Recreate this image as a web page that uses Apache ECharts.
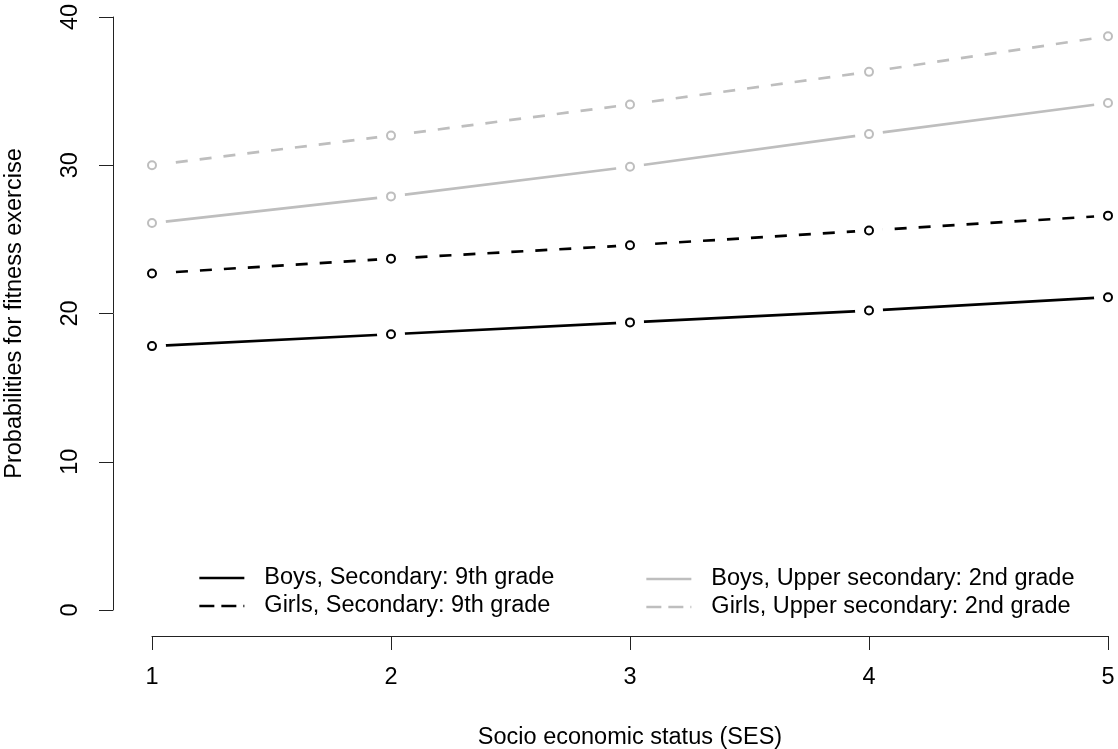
<!DOCTYPE html>
<html>
<head>
<meta charset="utf-8">
<script src="https://cdn.jsdelivr.net/npm/echarts@6/dist/echarts.min.js"></script>
<style>
html,body{margin:0;padding:0;background:#fff;}
#chart{width:1118px;height:749px;}
</style>
</head>
<body>
<div id="chart"></div>
<script>
var ses = [1, 2, 3, 4, 5];
var boysSecondary = [17.8, 18.6, 19.4, 20.2, 21.1];
var girlsSecondary = [22.7, 23.7, 24.6, 25.6, 26.6];
var boysUpper = [26.1, 27.9, 29.9, 32.1, 34.2];
var girlsUpper = [30.0, 32.0, 34.1, 36.3, 38.7];
var seriesNames = [
  'Boys, Secondary: 9th grade',
  'Girls, Secondary: 9th grade',
  'Boys, Upper secondary: 2nd grade',
  'Girls, Upper secondary: 2nd grade'
];
var yTicks = [0, 10, 20, 30, 40];
var xTitle = 'Socio economic status (SES)';
var yTitle = 'Probabilities for fitness exercise';

var FONT = '"Liberation Sans", Arial, sans-serif';
var FS = 23.5;
var BLACK = '#000000';
var GREY = '#BEBEBE';

function pairs(vals) {
  return ses.map(function (x, i) { return [x, vals[i]]; });
}

var defs = [
  { name: seriesNames[0], vals: boysSecondary, color: BLACK, dash: 'solid', legDash: 'solid' },
  { name: seriesNames[1], vals: girlsSecondary, color: BLACK, dash: [12, 12], legDash: [15, 7] },
  { name: seriesNames[2], vals: boysUpper, color: GREY, dash: 'solid', legDash: 'solid' },
  { name: seriesNames[3], vals: girlsUpper, color: GREY, dash: [12, 12], legDash: [15, 7] }
];

var series = [];
defs.forEach(function (d) {
  series.push({
    name: d.name, type: 'line', data: pairs(d.vals), symbol: 'none',
    lineStyle: { color: d.color, width: 2.7, type: d.dash },
    itemStyle: { color: d.color },
    z: 1, clip: false, silent: true, animation: false
  });
});
// white discs that open a small gap in each line around its points (R type = "b")
defs.forEach(function (d, k) {
  series.push({
    id: 'gap' + k, type: 'custom', data: pairs(d.vals),
    renderItem: function (params, api) {
      var p = api.coord([api.value(0), api.value(1)]);
      return {
        type: 'circle',
        shape: { cx: p[0], cy: p[1], r: 14 },
        style: { fill: '#ffffff', stroke: null, opacity: 1 }
      };
    },
    encode: { x: 0, y: 1 },
    z: 5, clip: false, silent: true, animation: false
  });
});
defs.forEach(function (d, k) {
  series.push({
    id: 'pt' + k, type: 'scatter', data: pairs(d.vals),
    symbol: 'emptyCircle', symbolSize: 8,
    itemStyle: { color: d.color, borderColor: d.color, borderWidth: 2.6, opacity: 1 },
    z: 6, clip: false, silent: true, animation: false
  });
});

function legendCfg(idx, left, top) {
  return {
    show: true, orient: 'vertical', left: left, top: top, padding: 0,
    itemWidth: 45, itemHeight: 14, itemGap: 4,
    data: idx.map(function (i) {
      var d = defs[i];
      return {
        name: d.name,
        itemStyle: { opacity: 0, borderWidth: 0 },
        lineStyle: { color: d.color, width: 2.7, type: d.legDash }
      };
    }),
    itemStyle: { opacity: 0, borderWidth: 0 },
    textStyle: { fontFamily: FONT, fontSize: FS, color: '#000', lineHeight: 24, padding: [0, 0, 0, 15] },
    selectedMode: false
  };
}

var chart = echarts.init(document.getElementById('chart'), null, { renderer: 'canvas' });
chart.setOption({
  animation: false,
  backgroundColor: '#ffffff',
  textStyle: { fontFamily: FONT },
  grid: { left: 152, right: 10, top: 17, bottom: 139, containLabel: false, outerBoundsMode: 'none' },
  legend: [legendCfg([0, 1], 198, 566), legendCfg([2, 3], 645, 567)],
  xAxis: {
    type: 'value', min: 1, max: 5, interval: 1,
    offset: 26,
    name: xTitle, nameLocation: 'middle', nameGap: 90,
    nameTextStyle: { fontFamily: FONT, fontSize: FS, color: '#000' },
    axisLine: { show: true, onZero: false, lineStyle: { color: '#222', width: 1 } },
    axisTick: { show: true, length: 14, lineStyle: { color: '#222', width: 1 } },
    axisLabel: { fontFamily: FONT, fontSize: FS, color: '#000', margin: 30 },
    splitLine: { show: false }
  },
  yAxis: {
    type: 'value', min: yTicks[0], max: yTicks[yTicks.length - 1], interval: 10,
    offset: 39,
    name: yTitle, nameLocation: 'middle', nameGap: 86,
    nameTextStyle: { fontFamily: FONT, fontSize: FS, color: '#000' },
    axisLine: { show: true, onZero: false, lineStyle: { color: '#222', width: 1 } },
    axisTick: { show: true, length: 14, lineStyle: { color: '#222', width: 1 } },
    axisLabel: { fontFamily: FONT, fontSize: FS, color: '#000', margin: 30, rotate: 90 },
    splitLine: { show: false }
  },
  series: series
});
</script>
</body>
</html>
